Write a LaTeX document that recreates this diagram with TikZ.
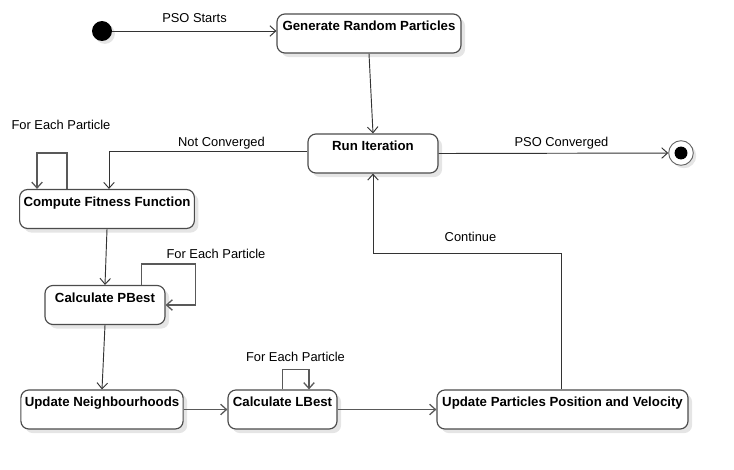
\documentclass[tikz,border=0pt]{standalone}
\usepackage{fontspec}
\setmainfont{Liberation Sans}
\usetikzlibrary{positioning}
\usetikzlibrary{arrows.meta}
\usetikzlibrary{shadows}
\usetikzlibrary{calc}
\tikzset{
    mystate/.style = {rectangle, rounded corners=6.8pt, draw=black!70, line width=1pt, fill=white, align=center, font=\fontsize{11.3}{13}\selectfont\bfseries, text=black, inner ysep=0pt, text height=14.5pt, text depth=18.8pt, drop shadow={shadow xshift=3.5pt, shadow yshift=-3.5pt, fill=black!20, opacity=0.5}},
    mystart/.style = {circle, fill=black, minimum size=17pt, inner sep=0pt, drop shadow={shadow xshift=2.5pt, shadow yshift=-2.5pt, fill=black!20, opacity=0.5}},
    myend/.style = {circle, draw=black!60, line width=0.8pt, fill=white, minimum size=21pt, inner sep=0pt, drop shadow={shadow xshift=2.5pt, shadow yshift=-2.5pt, fill=black!20, opacity=0.5}, path picture={\fill[black] (path picture bounding box.center) circle (5.5pt);}},
    edgen/.style = {-{Straight Barb[length=5pt,width=9pt]}, line width=0.8pt, black!80},
    edgeloop/.style = {-{Straight Barb[length=5pt,width=9pt]}, line width=1.1pt, black!65},
    edgel/.style = {font=\fontsize{11}{13}\selectfont, anchor=base, inner sep=0pt}
}
\begin{document}
\begin{tikzpicture}[x=0.03cm, y=-0.03cm]
  \useasboundingbox (0,0) rectangle (734,469);
  % states
  \node[mystart] (start) at (102,31) {};
  \node[mystate, minimum width=5.52cm] (gen) at (369,33.5) {Generate Random Particles};
  \node[mystate, minimum width=3.9cm] (run) at (373,153.5) {Run Iteration};
  \node[myend] (end) at (681,153) {};
  \node[mystate, minimum width=5.16cm] (fit) at (107,209) {Compute Fitness Function};
  \node[mystate, minimum width=3.6cm] (pbest) at (105,305) {Calculate PBest};
  \node[mystate, minimum width=4.86cm] (nh) at (102,409.5) {Update Neighbourhoods};
  \node[mystate, minimum width=3.27cm] (lbest) at (282.5,409.5) {Calculate LBest};
  \node[mystate, minimum width=7.53cm] (upd) at (562.5,409.5) {Update Particles Position and Velocity};
  % transitions
  \draw[edgen] (start.east) -- (start.east -| gen.west);
  \draw[edgen] (gen.south) -- (run.north);
  \draw[edgen] (run.east) -- (end);
  \draw[edgen] ($(run.west)+(0,-2)$) -| ($(fit.north)+(2,0)$);
  \draw[edgeloop] ($(fit.north west)+(48,0)$) -- ++(0,-36) -| ($(fit.north west)+(18,0)$);
  \draw[edgen] (fit.south) -- (pbest.north);
  \draw[edgeloop] ($(pbest.north east)+(-24,0)$) -- ++(0,-21) -| ($(pbest.east)+(30,0)$) -- (pbest.east);
  \draw[edgen] (pbest.south) -- (nh.north);
  \draw[edgeloop] (nh.east) -- (lbest.west);
  \draw[edgeloop] (lbest.north) -- ++(0,-20) -| ($(lbest.north)+(26.5,0)$);
  \draw[edgeloop] (lbest.east) -- (upd.west);
  \draw[edgen] ($(upd.north)+(-1.5,0)$) |- ($(run.south)+(0,80)$) -- (run.south);
  % labels
  \node[edgel] (lstart) at (194.5,22) {PSO Starts};
  \node[edgel] (lnot) at (221.5,146) {Not Converged};
  \node[edgel] (lconv) at (561.5,146) {PSO Converged};
  \node[edgel] (lfit) at (61,129) {For Each Particle};
  \node[edgel] (lpbest) at (216,258) {For Each Particle};
  \node[edgel] (llbest) at (295.5,361) {For Each Particle};
  \node[edgel] (lcont) at (470.5,241) {Continue};
\end{tikzpicture}
\end{document}
